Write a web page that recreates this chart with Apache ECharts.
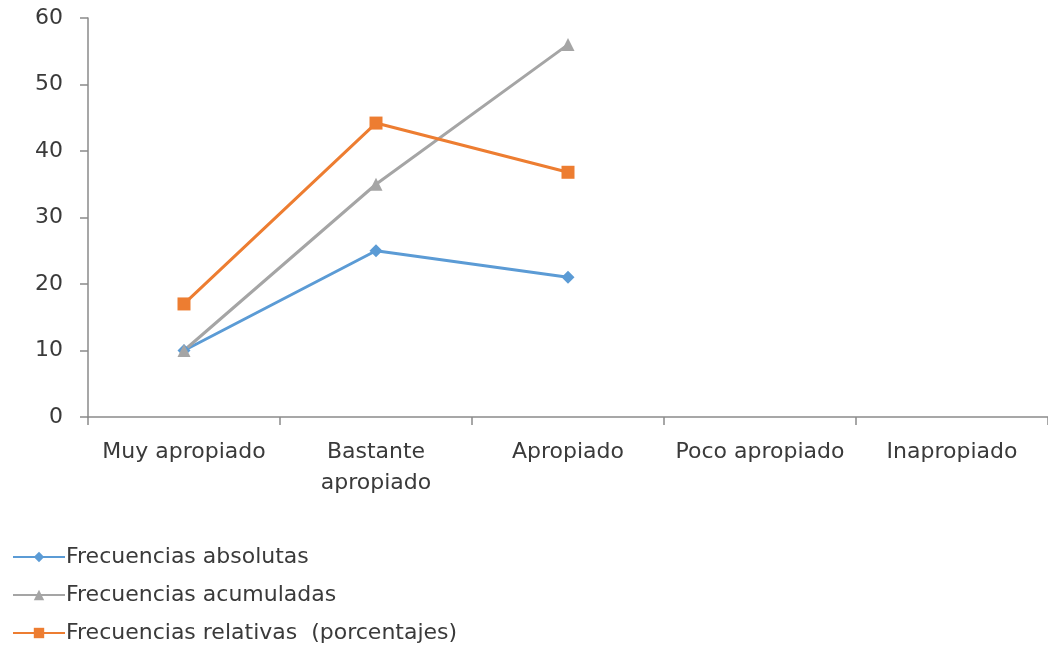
<!DOCTYPE html>
<html>
<head>
<meta charset="utf-8">
<script src="https://cdn.jsdelivr.net/npm/echarts@6/dist/echarts.min.js"></script>
<style>
  html, body { margin: 0; padding: 0; background: #fff; }
  #chart { width: 1048px; height: 648px; }
</style>
</head>
<body>
<div id="chart"></div>
<script>
// Categorías de valoración
const categories = ['Muy apropiado', 'Bastante\napropiado', 'Apropiado', 'Poco apropiado', 'Inapropiado'];
// Series
const absolutas = [10, 25, 21, null, null];
const acumuladas = [10, 35, 56, null, null];
const relativas = [17, 44.2, 36.8, null, null];

const FONT = 'DejaVu Sans, Verdana, sans-serif';
const TEXT = '#3a3a3a';
const AXIS = '#8a8a8a';

const chart = echarts.init(document.getElementById('chart'), null, { renderer: 'canvas' });

function lineSeries(name, data, color, symbol, size) {
  return {
    name, type: 'line', data,
    symbol, symbolSize: size,
    lineStyle: { color, width: 3 },
    itemStyle: { color },
    connectNulls: false,
    animation: false
  };
}

chart.setOption({
  animation: false,
  textStyle: { fontFamily: FONT },
  grid: { left: 88, right: -4, top: 18, bottom: 231, containLabel: false },
  legend: {
    orient: 'vertical',
    left: 12, top: 544, height: 120, padding: 0,
    itemWidth: 52, itemHeight: 13, itemGap: 12,
    textStyle: { fontFamily: FONT, fontSize: 22, lineHeight: 26, color: TEXT, padding: [0, 0, 0, -4] },
    data: ['Frecuencias absolutas', 'Frecuencias acumuladas', 'Frecuencias relativas  (porcentajes)']
  },
  xAxis: {
    type: 'category',
    data: categories,
    boundaryGap: true,
    axisLine: { lineStyle: { color: AXIS, width: 1.5 } },
    axisTick: { show: true, length: 8, lineStyle: { color: AXIS, width: 1.5 } },
    axisLabel: { color: TEXT, fontFamily: FONT, fontSize: 22, margin: 20, lineHeight: 31, interval: 0 },
    splitLine: { show: false }
  },
  yAxis: {
    type: 'value',
    min: 0, max: 60, interval: 10,
    axisLine: { show: true, lineStyle: { color: AXIS, width: 1.5 } },
    axisTick: { show: true, length: 8, lineStyle: { color: AXIS, width: 1.5 } },
    axisLabel: { color: TEXT, fontFamily: FONT, fontSize: 22, margin: 25 },
    splitLine: { show: false }
  },
  series: [
    lineSeries('Frecuencias absolutas', absolutas, '#5B9BD5', 'diamond', 13),
    lineSeries('Frecuencias acumuladas', acumuladas, '#A5A5A5', 'triangle', 13),
    lineSeries('Frecuencias relativas  (porcentajes)', relativas, '#ED7D31', 'rect', 13)
  ]
});
</script>
</body>
</html>
